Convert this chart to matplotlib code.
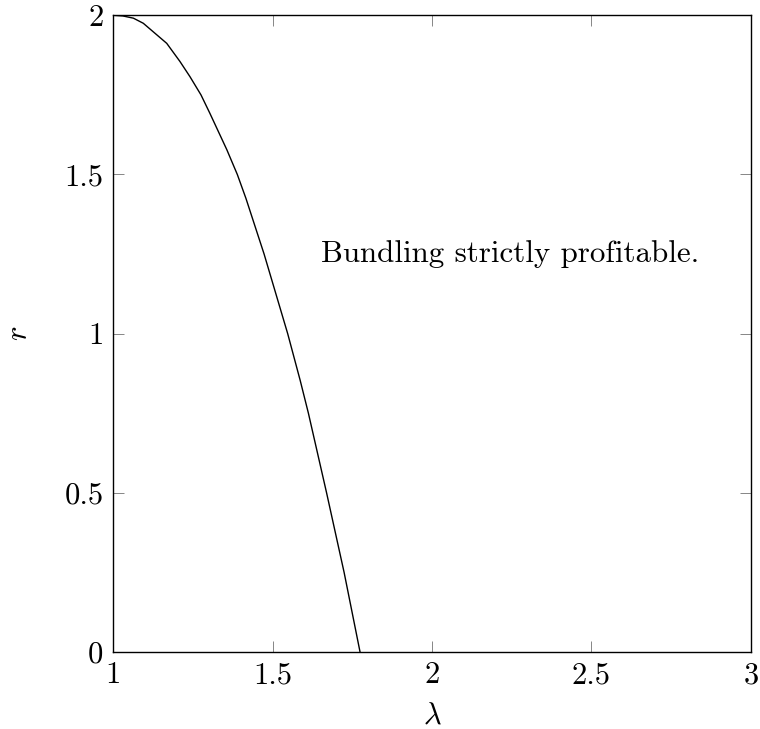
import matplotlib
matplotlib.use("Agg")
import matplotlib.pyplot as plt

plt.rcParams['font.family'] = ['cmr10', 'DejaVu Serif']
plt.rcParams['mathtext.fontset'] = 'cm'
plt.rcParams['axes.formatter.use_mathtext'] = True

# boundary curve
lam = [1.0, 1.03, 1.063, 1.094, 1.1675, 1.209, 1.2406, 1.275, 1.303, 1.356,
       1.389, 1.416, 1.473, 1.547, 1.586, 1.612, 1.669, 1.724, 1.774]
r = [2.0, 1.998, 1.991, 1.975, 1.912, 1.855, 1.807, 1.75, 1.692, 1.578,
     1.5, 1.425, 1.25, 1.0, 0.854, 0.75, 0.5, 0.25, 0.0]

xticks = [1, 1.5, 2, 2.5, 3]
xticklabels = ['1', '1.5', '2', '2.5', '3']
yticks = [0, 0.5, 1, 1.5, 2]
yticklabels = ['0', '0.5', '1', '1.5', '2']
annotation = 'Bundling strictly profitable.'

fig = plt.figure(figsize=(7.6, 7.29), dpi=100)
ax = fig.add_axes([0.1491, 0.1056, 0.8389, 0.8734])
ax.plot(lam, r, color='black', lw=1.0)
ax.set_xlim(1, 3)
ax.set_ylim(0, 2)
ax.set_xticks(xticks)
ax.set_xticklabels(xticklabels)
ax.set_yticks(yticks)
ax.set_yticklabels(yticklabels)
ax.tick_params(direction='in', length=8, width=0.6, color='0.45',
               top=True, right=True, labelsize=22, pad=7)
for s in ax.spines.values():
    s.set_linewidth(1.0)
ax.set_xlabel(r'$\lambda$', fontsize=22, labelpad=9)
ax.set_ylabel(r'$r$', fontsize=22, labelpad=23)
ax.text(2.245, 1.25, annotation, fontsize=22.3, ha='center', va='center')

fig.savefig('out.png', dpi=100)
